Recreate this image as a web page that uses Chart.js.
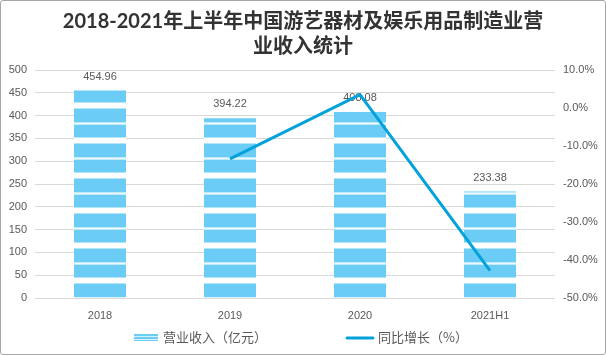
<!DOCTYPE html>
<html><head><meta charset="utf-8">
<script src="https://cdn.jsdelivr.net/npm/chart.js@4/dist/chart.umd.min.js"></script>
<style>
html,body{margin:0;padding:0;background:#fff;}
#wrap{position:absolute;left:0;top:0;width:604px;height:353px;border:1px solid #a6a6a6;border-radius:3px;overflow:hidden;}
canvas{display:block;}
</style></head>
<body><div id="wrap"><canvas id="c" width="604" height="353"></canvas></div>
<script>
const categories = ['2018', '2019', '2020', '2021H1'];
const revenue = [454.96, 394.22, 408.08, 233.38];
const growth = [null, -13.4, 3.5, -42.8];
const titleLines = ['2018-2021年上半年中国游艺器材及娱乐用品制造业营', '业收入统计'];
const revenueLabel = '营业收入（亿元）';
const growthLabel = '同比增长（%）';

const BLUE = '#6bcdf5';
const LINE = '#03a2da';
const TXT = '#595959';
const NUMFONT = "'Liberation Sans', Arial, sans-serif";
const CJKFONT = "'Noto Sans CJK SC', sans-serif";

function makePattern(ctx) {
  const t = document.createElement('canvas');
  t.width = 4; t.height = 35;
  const g = t.getContext('2d');
  g.fillStyle = BLUE; g.fillRect(0, 0, 4, 35);
  const row = (y, c) => { g.fillStyle = c; g.fillRect(0, y, 4, 1); };
  row(31, '#b3e5f9');
  [32, 33, 34, 0, 1].forEach(y => row(y, '#ffffff'));
  row(2, '#b3e5f9');
  row(16, '#c0eafa'); row(17, '#ecf9fe'); row(18, '#c0eafa');
  return ctx.createPattern(t, 'repeat');
}

const canvas = document.getElementById('c');
const ctx = canvas.getContext('2d');
const pattern = makePattern(ctx);

const barLabels = {
  id: 'barLabels',
  afterDatasetDraw(chart, args) {
    if (args.index !== 0) return;
    const c = chart.ctx;
    const meta = chart.getDatasetMeta(0);
    c.save();
    c.font = '11px ' + NUMFONT;
    c.fillStyle = TXT;
    c.textAlign = 'center';
    c.textBaseline = 'middle';
    meta.data.forEach((bar, i) => {
      c.fillText(revenue[i].toFixed(2), bar.x, bar.y - 14);
    });
    c.restore();
  }
};

const customLegend = {
  id: 'customLegend',
  afterDraw(chart) {
    const c = chart.ctx;
    const y = 336;
    c.save();
    const x1 = 133, w = 24;
    c.fillStyle = '#d8f2fc';
    c.fillRect(x1, y - 3, w, 7);
    c.fillStyle = BLUE;
    c.fillRect(x1, y - 3, w, 2);
    c.fillRect(x1, y, w, 2);
    c.fillRect(x1, y + 3, w, 1);
    c.font = '13px ' + CJKFONT;
    c.fillStyle = TXT;
    c.textAlign = 'left';
    c.textBaseline = 'middle';
    c.fillText(revenueLabel, 162, y);
    c.strokeStyle = LINE;
    c.lineWidth = 3;
    c.lineCap = 'round';
    c.beginPath();
    c.moveTo(346, y + 1);
    c.lineTo(372, y + 1);
    c.stroke();
    c.fillText(growthLabel, 377, y);
    c.restore();
  }
};

new Chart(canvas, {
  data: {
    labels: categories,
    datasets: [
      {
        type: 'bar',
        label: revenueLabel,
        data: revenue,
        backgroundColor: pattern,
        borderWidth: 0,
        barPercentage: 0.5,
        categoryPercentage: 0.8,
        yAxisID: 'y',
        order: 1
      },
      {
        type: 'line',
        label: growthLabel,
        data: growth,
        borderColor: LINE,
        borderWidth: 3,
        pointRadius: 0,
        tension: 0,
        spanGaps: false,
        yAxisID: 'y1',
        order: 0
      }
    ]
  },
  plugins: [barLabels, customLegend],
  options: {
    responsive: false,
    animation: false,
    devicePixelRatio: 1,
    layout: { padding: { left: 0, right: 0, top: 0, bottom: 26 } },
    plugins: {
      legend: { display: false },
      tooltip: { enabled: false },
      title: {
        display: true,
        text: titleLines,
        color: '#333333',
        font: { family: "Lato, " + CJKFONT, size: 20, weight: 'bold', lineHeight: 1.25 },
        padding: { top: 8.5, bottom: 10.5 }
      }
    },
    scales: {
      x: {
        grid: { display: false, drawTicks: false },
        border: { display: false },
        ticks: { color: TXT, font: { family: NUMFONT, size: 11 }, padding: 11 },
        afterFit(s) { s.height = 30; }
      },
      y: {
        position: 'left',
        min: 0, max: 500,
        ticks: { stepSize: 50, color: TXT, font: { family: NUMFONT, size: 11 }, padding: 8 },
        grid: { color: '#d9d9d9', drawTicks: false, lineWidth: 1 },
        border: { display: false },
        afterFit(s) { s.width = 34; }
      },
      y1: {
        position: 'right',
        min: -50, max: 10,
        ticks: { stepSize: 10, color: TXT, font: { family: NUMFONT, size: 11 }, padding: 8,
                 callback: v => v.toFixed(1) + '%' },
        grid: { display: false, drawTicks: false },
        border: { display: false },
        afterFit(s) { s.width = 50; }
      }
    }
  }
});
</script>
</body></html>
